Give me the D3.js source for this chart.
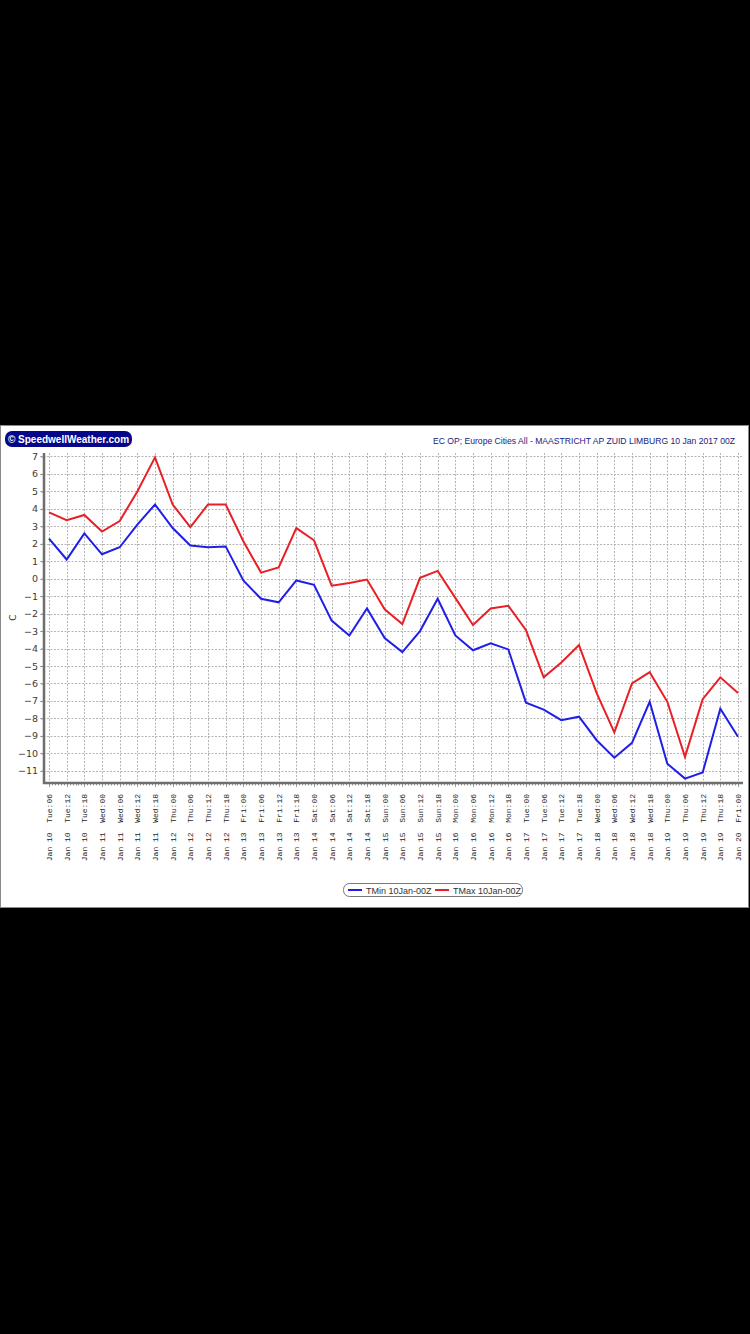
<html>
<head>
    <script src="https://d3js.org/d3.v7.min.js" charset="utf-8"></script>
    <style>
        body { margin: 0; background: #000; }
    </style>
</head>
<body>
    <script type="text/javascript">
        // Forecast times (6-hourly), one label per point
        var labels = [
            "Jan 10  Tue:06", "Jan 10  Tue:12", "Jan 10  Tue:18",
            "Jan 11  Wed:00", "Jan 11  Wed:06", "Jan 11  Wed:12", "Jan 11  Wed:18",
            "Jan 12  Thu:00", "Jan 12  Thu:06", "Jan 12  Thu:12", "Jan 12  Thu:18",
            "Jan 13  Fri:00", "Jan 13  Fri:06", "Jan 13  Fri:12", "Jan 13  Fri:18",
            "Jan 14  Sat:00", "Jan 14  Sat:06", "Jan 14  Sat:12", "Jan 14  Sat:18",
            "Jan 15  Sun:00", "Jan 15  Sun:06", "Jan 15  Sun:12", "Jan 15  Sun:18",
            "Jan 16  Mon:00", "Jan 16  Mon:06", "Jan 16  Mon:12", "Jan 16  Mon:18",
            "Jan 17  Tue:00", "Jan 17  Tue:06", "Jan 17  Tue:12", "Jan 17  Tue:18",
            "Jan 18  Wed:00", "Jan 18  Wed:06", "Jan 18  Wed:12", "Jan 18  Wed:18",
            "Jan 19  Thu:00", "Jan 19  Thu:06", "Jan 19  Thu:12", "Jan 19  Thu:18",
            "Jan 20  Fri:00"
        ];

        // Temperatures in C
        var tmin = [2.3, 1.1, 2.6, 1.4, 1.8, 3.1, 4.25, 2.9, 1.9, 1.8, 1.85,
                    -0.1, -1.15, -1.35, -0.1, -0.35, -2.4, -3.25, -1.7, -3.4, -4.2,
                    -3.0, -1.15, -3.25, -4.1, -3.7, -4.05, -7.1, -7.5, -8.1, -7.9,
                    -9.25, -10.25, -9.4, -7.05, -10.6, -11.45, -11.1, -7.45, -9.05];
        var tmax = [3.8, 3.35, 3.65, 2.7, 3.3, 5.0, 6.95, 4.25, 2.95, 4.25, 4.25,
                    2.15, 0.35, 0.65, 2.9, 2.2, -0.4, -0.25, -0.05, -1.75, -2.6,
                    0.05, 0.45, -1.1, -2.65, -1.7, -1.55, -2.95, -5.65, -4.8, -3.8,
                    -6.55, -8.8, -6.0, -5.35, -7.05, -10.2, -6.9, -5.65, -6.55];
        var yTicks = [7, 6, 5, 4, 3, 2, 1, 0, -1, -2, -3, -4, -5, -6, -7, -8, -9, -10, -11];

        var series = [
            { name: "TMin 10Jan-00Z", values: tmin, color: "#1f1fe8" },
            { name: "TMax 10Jan-00Z", values: tmax, color: "#e81f24" }
        ];

        var width = 750;
        var height = 1334;
        var plot = { left: 44, right: 743, top: 453, bottom: 783 };

        var svg = d3.select("body").append("svg")
            .attr("width", width)
            .attr("height", height)
            .style("display", "block");

        svg.append("rect")
            .attr("width", width)
            .attr("height", height)
            .attr("fill", "#000");

        // White chart panel
        svg.append("rect")
            .attr("x", 0.5)
            .attr("y", 425.5)
            .attr("width", 748)
            .attr("height", 482)
            .attr("fill", "#fff")
            .attr("stroke", "#8a8a8a");

        var x = d3.scalePoint()
            .domain(labels)
            .range([49, 738]);

        var y = d3.scaleLinear()
            .domain([-11.7, 7.2])
            .range([plot.bottom, plot.top]);

        // Grid
        var grid = svg.append("g")
            .attr("stroke", "#b4b4b4")
            .attr("stroke-width", 1)
            .attr("stroke-dasharray", "2,1.5");

        grid.selectAll("line.v")
            .data(labels)
            .join("line")
            .attr("class", "v")
            .attr("x1", d => Math.round(x(d)) + 0.5)
            .attr("x2", d => Math.round(x(d)) + 0.5)
            .attr("y1", plot.top)
            .attr("y2", plot.bottom);

        grid.selectAll("line.h")
            .data(yTicks)
            .join("line")
            .attr("class", "h")
            .attr("x1", plot.left - 4)
            .attr("x2", plot.right)
            .attr("y1", d => Math.round(y(d)) + 0.5)
            .attr("y2", d => Math.round(y(d)) + 0.5);

        // Y axis
        var yAxis = svg.append("g")
            .attr("transform", "translate(" + plot.left + ",0)")
            .call(d3.axisLeft(y).tickValues(yTicks).tickSize(3).tickFormat(d3.format("d")));
        yAxis.select(".domain").remove();
        yAxis.selectAll(".tick line").attr("stroke", "#888");
        yAxis.selectAll("text")
            .attr("fill", "#3a3a3a")
            .style("font-family", "'DejaVu Sans', Verdana, sans-serif")
            .style("font-size", "9.5px")
            .attr("x", -6);

        svg.append("line")
            .attr("x1", plot.left)
            .attr("x2", plot.left)
            .attr("y1", plot.top)
            .attr("y2", plot.bottom + 1)
            .attr("stroke", "#6e6e6e")
            .attr("stroke-width", 2.5);

        svg.append("text")
            .attr("transform", "translate(16," + (y(-2) + 4) + ") rotate(-90)")
            .attr("text-anchor", "middle")
            .attr("fill", "#333")
            .style("font-family", "'DejaVu Sans', Verdana, sans-serif")
            .style("font-size", "9px")
            .text("C");

        // X axis: hourly minor ticks, 6-hourly labels
        var step = x.step();
        var minor = d3.range(0, (labels.length - 1) * 6 + 1).map(k => x(labels[0]) + step * k / 6);
        svg.append("g")
            .selectAll("line")
            .data(minor)
            .join("line")
            .attr("x1", d => Math.round(d) + 0.5)
            .attr("x2", d => Math.round(d) + 0.5)
            .attr("y1", plot.bottom)
            .attr("y2", (d, i) => plot.bottom + (i % 6 === 0 ? 4 : 2.5))
            .attr("stroke", "#999");

        svg.append("line")
            .attr("x1", plot.left - 1)
            .attr("x2", plot.right)
            .attr("y1", plot.bottom)
            .attr("y2", plot.bottom)
            .attr("stroke", "#6e6e6e")
            .attr("stroke-width", 2.5);

        svg.append("g")
            .selectAll("text")
            .data(labels)
            .join("text")
            .attr("transform", d => "translate(" + (x(d) + 3) + "," + (plot.bottom + 11) + ") rotate(-90)")
            .attr("text-anchor", "end")
            .attr("fill", "#222")
            .attr("xml:space", "preserve")
            .style("white-space", "pre")
            .style("font-family", "'Liberation Mono', 'DejaVu Sans Mono', monospace")
            .style("font-size", "8px")
            .text(d => d);

        // Lines
        var line = d3.line()
            .x((d, i) => x(labels[i]))
            .y(d => y(d));

        svg.append("g")
            .selectAll("path")
            .data(series)
            .join("path")
            .attr("d", d => line(d.values))
            .attr("fill", "none")
            .attr("stroke", d => d.color)
            .attr("stroke-width", 2)
            .attr("stroke-linejoin", "miter");

        // Logo
        svg.append("rect")
            .attr("x", 5)
            .attr("y", 431)
            .attr("width", 127)
            .attr("height", 16)
            .attr("rx", 7)
            .attr("fill", "#06068a");
        svg.append("text")
            .attr("x", 68.5)
            .attr("y", 442.5)
            .attr("text-anchor", "middle")
            .attr("fill", "#fff")
            .style("font-family", "'Liberation Sans', Arial, sans-serif")
            .style("font-weight", "bold")
            .style("font-size", "10px")
            .text("\u00A9 SpeedwellWeather.com");

        // Title
        svg.append("text")
            .attr("x", 735)
            .attr("y", 444)
            .attr("text-anchor", "end")
            .attr("fill", "#1a1a80")
            .style("font-family", "'Liberation Sans', Arial, sans-serif")
            .style("font-size", "8.6px")
            .text("EC OP; Europe Cities All - MAASTRICHT AP ZUID LIMBURG 10 Jan 2017 00Z");

        // Legend
        var legend = svg.append("g").attr("transform", "translate(343,883)");
        legend.append("rect")
            .attr("x", 0.5)
            .attr("y", 0.5)
            .attr("width", 179)
            .attr("height", 13)
            .attr("rx", 6)
            .attr("fill", "#fff")
            .attr("stroke", "#777");
        var item = legend.selectAll("g.item")
            .data(series)
            .join("g")
            .attr("class", "item")
            .attr("transform", (d, i) => "translate(" + (5 + i * 87) + ",0)");
        item.append("line")
            .attr("x1", 0)
            .attr("x2", 14)
            .attr("y1", 7)
            .attr("y2", 7)
            .attr("stroke", d => d.color)
            .attr("stroke-width", 2);
        item.append("text")
            .attr("x", 18)
            .attr("y", 10.5)
            .attr("fill", "#333")
            .style("font-family", "'Liberation Sans', Arial, sans-serif")
            .style("font-size", "9px")
            .text(d => d.name);
    </script>
</body>
</html>
